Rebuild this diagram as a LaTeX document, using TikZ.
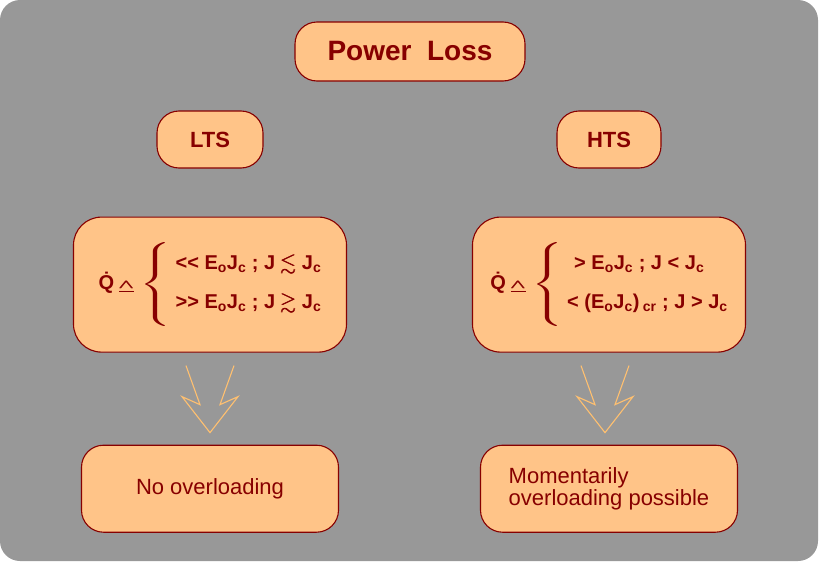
\documentclass[tikz,border=0pt]{standalone}
\usepackage{amsmath,amssymb}
\usepackage{fontspec}
\setmainfont{Liberation Sans}
\usepackage{tikz}
\usetikzlibrary{positioning,calc}
\definecolor{fondG}{RGB}{152,152,152}
\definecolor{boxF}{RGB}{255,196,136}
\definecolor{boxD}{RGB}{135,0,0}
\definecolor{arrowC}{RGB}{255,192,112}
\newcommand{\qdot}{\.Q\hspace{5pt}\raisebox{1pt}{\underline{\scalebox{1.1}[0.6]{$\pmb{\wedge}$}}}\hspace{5pt}%
  \scalebox{1.8}[1]{$\left\{\vrule height 36pt depth 36pt width 0pt\right.$}\hspace{2pt}}
\newcommand{\eoj}{E\textsubscript{o}J\textsubscript{c}}
\tikzset{
  pill/.style={rectangle, rounded corners=22pt, draw=boxD, line width=1.1pt, fill=boxF,
               text=boxD, align=center, font=\bfseries\fontsize{22}{26}\selectfont},
  qbox/.style={pill, rounded corners=28pt, minimum width=273pt, minimum height=135pt,
               font=\bfseries\fontsize{20}{23}\selectfont},
  resbox/.style={pill, minimum width=257pt, minimum height=87pt, align=left,
                 font=\fontsize{22}{20}\selectfont},
  hollowarrow/.pic={
    \draw[arrowC, line width=1.1pt, line join=miter]
      (-24,-33) -- (-10,6) -- (-28,-2) -- (0,34) -- (28,-2) -- (10,6) -- (24,-33);
  },
}
\begin{document}
\begin{tikzpicture}[x=1pt, y=-1pt]
  % background
  \fill[white] (0,0) rectangle (820,562);
  \fill[fondG, rounded corners=20pt] (0,0) rectangle (818,561);
  \useasboundingbox (0,0) rectangle (820,562);

  \node[pill, minimum width=230pt, minimum height=59pt, font=\bfseries\fontsize{28}{32}\selectfont]
    (loss) at (410,51.5) {Power~~Loss};
  \node[pill, minimum width=106pt, minimum height=57pt] (lts) at (210,139.5) {LTS};
  \node[pill, minimum width=104pt, minimum height=57pt] (hts) at (609,139.5) {HTS};

  \node[qbox, below=48pt of lts] (ltsq)
    {\qdot\begin{tabular}{@{}l@{}}
      <{}< \eoj\ ; J $\pmb{\lesssim}$ J\textsubscript{c}\\[16pt]
      >{}> \eoj\ ; J $\pmb{\gtrsim}$ J\textsubscript{c}
    \end{tabular}};
  \node[qbox, below=48pt of hts] (htsq)
    {\qdot\begin{tabular}{@{}l@{}}
      \hspace{7pt}> \eoj\ ; J < J\textsubscript{c}\\[16pt]
      < (\eoj)\,\textsubscript{cr} ; J > J\textsubscript{c}
    \end{tabular}};

  \node[resbox, below=92pt of ltsq] (ltsres) {No overloading};
  \node[resbox, below=92pt of htsq] (htsres) {Momentarily\\overloading possible};

  \coordinate (m1) at ($(ltsq.south)!0.5!(ltsres.north)$);
  \coordinate (m2) at ($(htsq.south)!0.5!(htsres.north)+(-4,0)$);
  \pic at (m1) {hollowarrow};
  \pic at (m2) {hollowarrow};
\end{tikzpicture}
\end{document}
